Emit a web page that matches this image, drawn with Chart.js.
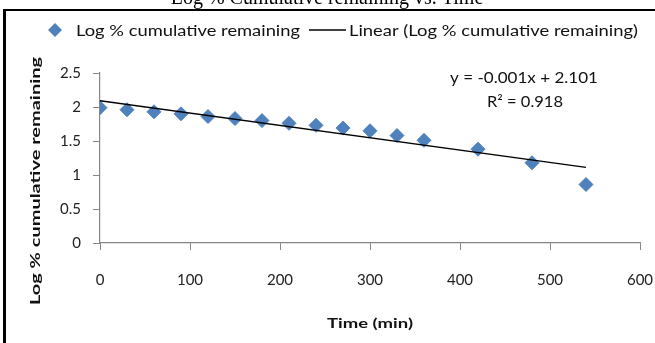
<!DOCTYPE html>
<html>
<head>
<meta charset="utf-8">
<script src="https://cdn.jsdelivr.net/npm/chart.js@4"></script>
<style>
	body { margin: 0; background: #fff; }
	#wrap { width: 655px; height: 343px; position: relative; }
</style>
</head>
<body>
<div id="wrap"><canvas id="scatterChart"></canvas></div>
<script>
// values
let timeMin = [0, 30, 60, 90, 120, 150, 180, 210, 240, 270, 300, 330, 360, 420, 480, 540];
let logRemaining = [1.99, 1.96, 1.93, 1.90, 1.86, 1.83, 1.80, 1.76, 1.73, 1.69, 1.65, 1.58, 1.51, 1.38, 1.18, 0.86];
let xTicks = [0, 100, 200, 300, 400, 500, 600];
let yTicks = [0, 0.5, 1, 1.5, 2, 2.5];

let titleText = "Log % Cumulative remaining vs. Time";
let seriesName = "Log % cumulative remaining";
let trendName = "Linear (Log % cumulative remaining)";
let eqText = "y = -0.001x + 2.101";
let r2Text = "R² = 0.918";

let fontFam = "Lato, 'Open Sans', sans-serif";
let markerBlue = "#4F81BD";
let axisGray = "#868686";

// least squares trendline from the points
let n = timeMin.length;
let mx = timeMin.reduce((a, b) => a + b, 0) / n;
let my = logRemaining.reduce((a, b) => a + b, 0) / n;
let sxy = 0, sxx = 0;
for (let i = 0; i < n; i++) {
	sxy += (timeMin[i] - mx) * (logRemaining[i] - my);
	sxx += (timeMin[i] - mx) * (timeMin[i] - mx);
}
let slope = sxy / sxx;
let intercept = my - slope * mx;
let xEnd = timeMin[n - 1];

let pointData = timeMin.map((t, i) => ({ x: t, y: logRemaining[i] }));
let trendData = [
	{ x: 0, y: intercept },
	{ x: xEnd, y: intercept + slope * xEnd },
];

let dataPoints = {
	label: seriesName,
	data: pointData,
	pointStyle: "rectRot",
	pointRadius: 7,
	pointHoverRadius: 7,
	backgroundColor: markerBlue,
	borderColor: markerBlue,
	borderWidth: 1,
	order: 1,
};

let dataTrend = {
	label: trendName,
	data: trendData,
	showLine: true,
	borderColor: "#000",
	borderWidth: 1.4,
	pointRadius: 0,
	fill: false,
	order: 0,
};

// draws text stretched to a given width (the original font is narrow)
const fitText = (c, text, x, y, width) => {
	let w = c.measureText(text).width;
	c.save();
	c.translate(x, y);
	c.scale(width / w, 1);
	c.textAlign = "left";
	c.fillText(text, 0, 0);
	c.restore();
};

// title, frame, legend, axis titles and equation drawn on top
const decorPlugin = {
	id: "decor",
	afterDraw(chart) {
		const c = chart.ctx;
		c.save();

		// frame (left and top edges)
		c.fillStyle = "#000";
		c.fillRect(3, 9, 3, 334);
		c.fillRect(3, 9, 652, 2);

		// cut-off title
		c.font = "20px 'Liberation Serif', serif";
		c.textAlign = "center";
		c.textBaseline = "alphabetic";
		c.fillText(titleText, 327, 4);

		// legend
		c.textBaseline = "middle";
		c.fillStyle = markerBlue;
		c.beginPath();
		c.moveTo(55, 23);
		c.lineTo(62, 30);
		c.lineTo(55, 37);
		c.lineTo(48, 30);
		c.closePath();
		c.fill();
		c.fillStyle = "#111";
		c.font = "15px " + fontFam;
		fitText(c, seriesName, 76, 31, 224);
		c.strokeStyle = "#000";
		c.lineWidth = 1.4;
		c.beginPath();
		c.moveTo(309, 30);
		c.lineTo(346, 30);
		c.stroke();
		fitText(c, trendName, 349, 31, 289);

		// equation
		c.font = "15px " + fontFam;
		fitText(c, eqText, 450, 78, 148);
		fitText(c, r2Text, 487, 102, 76);

		// axis titles
		c.font = "bold 14px " + fontFam;
		fitText(c, "Time (min)", 327, 323, 86);
		c.translate(35, 305);
		c.rotate(-Math.PI / 2);
		fitText(c, seriesName, 0, 0, 248);

		c.restore();
	},
};

let chartOptions = {
	responsive: true,
	maintainAspectRatio: false,
	animation: false,
	layout: {
		padding: { top: 73, right: 0, left: 0, bottom: 0 },
	},
	plugins: {
		legend: { display: false },
		tooltip: { enabled: false },
	},
	scales: {
		x: {
			type: "linear",
			min: 0,
			max: 600,
			afterBuildTicks: (scale) => {
				scale.ticks = xTicks.map((v) => ({ value: v }));
			},
			afterFit: (scale) => {
				scale.height = 100;
				scale.paddingRight = 15;
			},
			ticks: {
				color: "#222",
				padding: 21,
				font: { family: fontFam, size: 15 },
			},
			grid: {
				drawOnChartArea: false,
				color: axisGray,
				tickLength: 7,
			},
			border: { color: axisGray, width: 1.2 },
		},
		y: {
			min: 0,
			max: 2.5,
			afterBuildTicks: (scale) => {
				scale.ticks = yTicks.map((v) => ({ value: v }));
			},
			afterFit: (scale) => {
				scale.width = 100;
			},
			ticks: {
				color: "#222",
				padding: 12,
				font: { family: fontFam, size: 15 },
				callback: (v) => String(v),
			},
			grid: {
				drawOnChartArea: false,
				color: axisGray,
				tickLength: 7,
			},
			border: { color: axisGray, width: 1.2 },
		},
	},
};

let ctx = new Chart(document.getElementById("scatterChart"), {
	type: "scatter",
	data: { datasets: [dataTrend, dataPoints] },
	options: chartOptions,
	plugins: [decorPlugin],
});
</script>
</body>
</html>
